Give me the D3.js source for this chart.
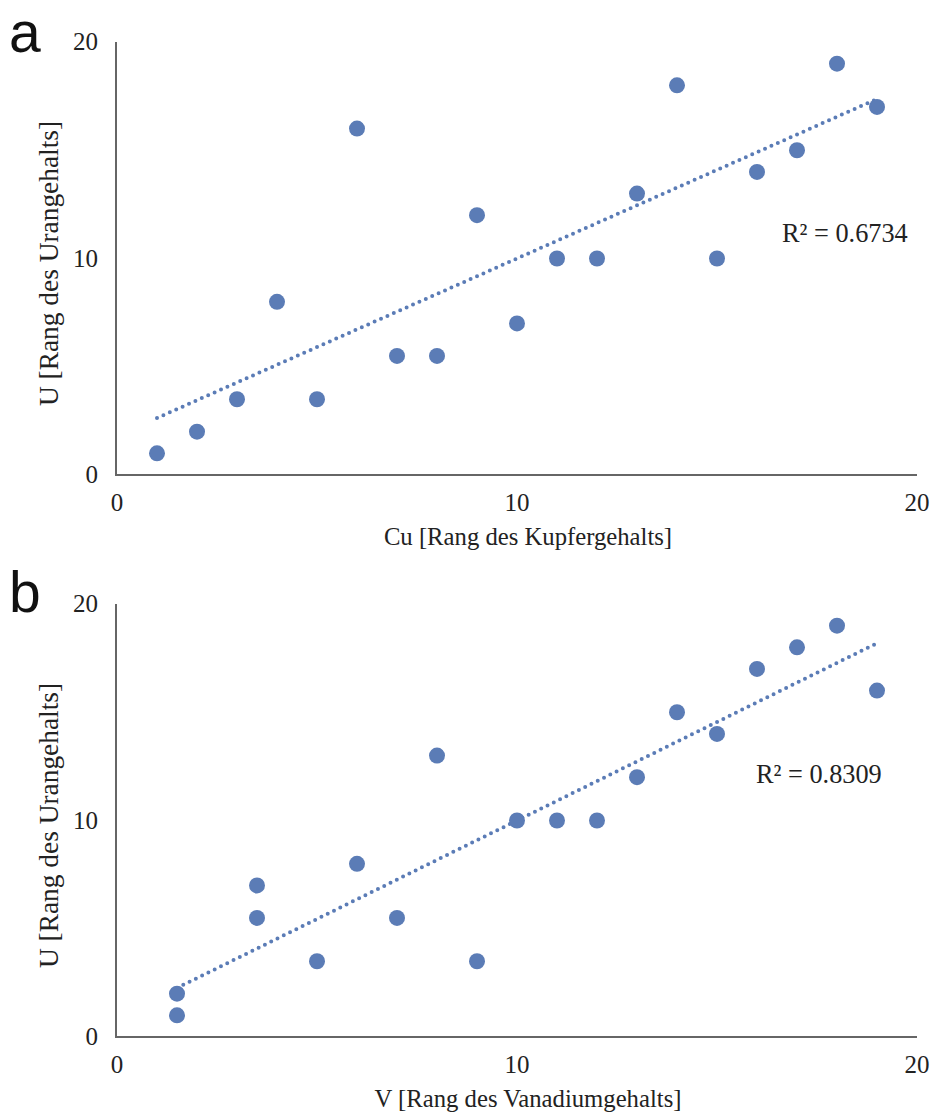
<!DOCTYPE html>
<html>
<head>
<meta charset="utf-8">
<script src="https://cdn.jsdelivr.net/npm/d3@7"></script>
<style>
  body { margin: 0; background: #fff; }
  text { font-family: "Liberation Serif", "Times New Roman", serif; fill: #222; }
  text.letter { font-family: "Liberation Sans", Arial, sans-serif; fill: #111; }
</style>
</head>
<body>
<div id="vis"></div>
<script>
// panel a: Cu rank vs U rank
const cuRank = [1, 2, 3, 4, 5, 6, 7, 8, 9, 10, 11, 12, 13, 14, 15, 16, 17, 18, 19];
const uRankA = [1, 2, 3.5, 8, 3.5, 16, 5.5, 5.5, 12, 7, 10, 10, 13, 18, 10, 14, 15, 19, 17];

// panel b: V rank vs U rank
const vRank = [1.5, 1.5, 3.5, 3.5, 5, 6, 7, 8, 9, 10, 11, 12, 13, 14, 15, 16, 17, 18, 19];
const uRankB = [2, 1, 7, 5.5, 3.5, 8, 5.5, 13, 3.5, 10, 10, 10, 12, 15, 14, 17, 18, 19, 16];

const panelLetters = ["a", "b"];
const xTitles = ["Cu [Rang des Kupfergehalts]", "V [Rang des Vanadiumgehalts]"];
const yTitle = "U [Rang des Urangehalts]";
const r2Labels = ["R² = 0.6734", "R² = 0.8309"];
const tickValues = [0, 10, 20];

const panels = [
  { x: cuRank, y: uRankA, top: 42, r2pos: [782, 242], letterY: 52 },
  { x: vRank, y: uRankB, top: 604, r2pos: [756, 783], letterY: 612 }
];

const W = 938, H = 1120;
const color = "#5b7cb6";

const svg = d3.select("#vis").append("svg")
  .attr("width", W)
  .attr("height", H);

// least squares fit
function fit(xs, ys) {
  const mx = d3.mean(xs), my = d3.mean(ys);
  let sxy = 0, sxx = 0;
  xs.forEach((v, i) => { sxy += (v - mx) * (ys[i] - my); sxx += (v - mx) * (v - mx); });
  const b = sxy / sxx;
  return { b, a: my - b * mx };
}

panels.forEach((p, k) => {
  const plotH = 433;
  const x = d3.scaleLinear().domain([0, 20]).range([117, 917]);
  const y = d3.scaleLinear().domain([0, 20]).range([p.top + plotH, p.top]);

  const g = svg.append("g");

  // axis lines (no tick marks)
  g.append("line")
    .attr("x1", x(0) - 1).attr("x2", x(0) - 1)
    .attr("y1", y(20)).attr("y2", y(0))
    .attr("stroke", "#666").attr("stroke-width", 2);
  g.append("line")
    .attr("x1", x(0) - 2).attr("x2", x(20))
    .attr("y1", y(0)).attr("y2", y(0))
    .attr("stroke", "#666").attr("stroke-width", 2);

  // tick labels
  g.selectAll(".xt").data(tickValues).join("text")
    .attr("class", "xt")
    .attr("x", d => x(d))
    .attr("y", y(0) + 36)
    .attr("text-anchor", "middle")
    .attr("font-size", 25)
    .text(d => d);
  g.selectAll(".yt").data(tickValues).join("text")
    .attr("class", "yt")
    .attr("x", 98)
    .attr("y", d => y(d) + 8)
    .attr("text-anchor", "end")
    .attr("font-size", 25)
    .text(d => d);

  // titles
  g.append("text")
    .attr("x", 528)
    .attr("y", y(0) + 70)
    .attr("text-anchor", "middle")
    .attr("font-size", 24.7)
    .text(xTitles[k]);
  g.append("text")
    .attr("transform", `translate(58,${y(10) + 5}) rotate(-90)`)
    .attr("text-anchor", "middle")
    .attr("font-size", 27.4)
    .text(yTitle);

  // panel letter
  g.append("text")
    .attr("class", "letter")
    .attr("x", 9)
    .attr("y", p.letterY)
    .attr("font-size", 57)
    .text(panelLetters[k]);

  // trend line
  const f = fit(p.x, p.y);
  const x0 = d3.min(p.x), x1 = d3.max(p.x);
  g.append("line")
    .attr("x1", x(x0)).attr("y1", y(f.a + f.b * x0))
    .attr("x2", x(x1)).attr("y2", y(f.a + f.b * x1))
    .attr("stroke", color)
    .attr("stroke-width", 4)
    .attr("stroke-linecap", "round")
    .attr("stroke-dasharray", "0 7");

  // points
  g.selectAll(".pt").data(p.x.map((v, i) => [v, p.y[i]])).join("circle")
    .attr("class", "pt")
    .attr("cx", d => x(d[0]))
    .attr("cy", d => y(d[1]))
    .attr("r", 8)
    .attr("fill", color);

  // R² label
  g.append("text")
    .attr("x", p.r2pos[0])
    .attr("y", p.r2pos[1])
    .attr("font-size", 26.3)
    .text(r2Labels[k]);
});
</script>
</body>
</html>
